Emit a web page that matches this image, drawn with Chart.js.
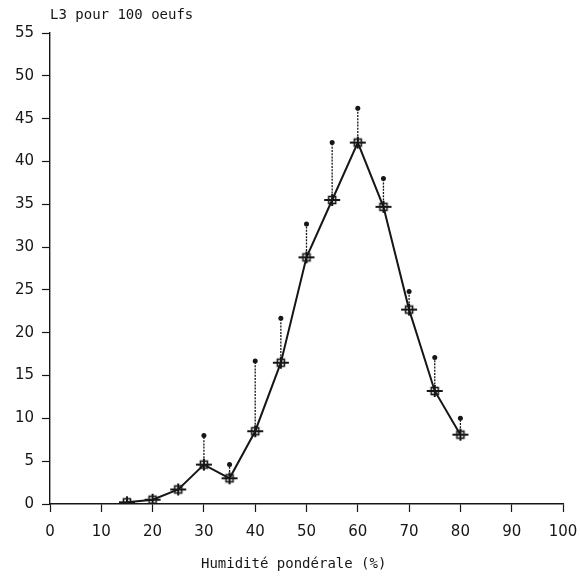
<!DOCTYPE html>
<html>
<head>
<meta charset="utf-8">
<script src="https://cdn.jsdelivr.net/npm/chart.js@4/dist/chart.umd.min.js"></script>
<style>
  html, body { margin: 0; padding: 0; background: #fff; }
  #wrap { width: 580px; height: 578px; }
</style>
</head>
<body>
<div id="wrap"><canvas id="c" width="580" height="578"></canvas></div>
<script>
// Humidité pondérale (%) du substrat
const humidite = [15, 20, 25, 30, 35, 40, 45, 50, 55, 60, 65, 70, 75, 80];
// Nombre moyen de L3 obtenues pour 100 oeufs
const larves = [0.2, 0.5, 1.7, 4.6, 3.0, 8.5, 16.5, 28.8, 35.5, 42.2, 34.7, 22.7, 13.2, 8.1];
// Borne supérieure de l'intervalle (barre d'erreur vers le haut)
const borneHaute = [null, null, null, 8.0, 4.6, 16.7, 21.7, 32.7, 42.2, 46.2, 38.0, 24.8, 17.1, 10.0];
// Graduations
const ticksX = [0, 10, 20, 30, 40, 50, 60, 70, 80, 90, 100];
const ticksY = [0, 5, 10, 15, 20, 25, 30, 35, 40, 45, 50, 55];

const titreY = 'L3 pour 100 oeufs';
const titreX = 'Humidité pondérale (%)';

const ink = '#161616';
const monoFont = '"DejaVu Sans Mono", "Liberation Mono", monospace';
const tickFont = '"DejaVu Sans", "Liberation Sans", sans-serif';

// Symbole : carré ouvert traversé d'une croix
function makeMarker() {
  const cv = document.createElement('canvas');
  cv.width = 18; cv.height = 14;
  const g = cv.getContext('2d');
  g.strokeStyle = ink;
  g.lineWidth = 1.6;
  g.strokeRect(5.5, 3.5, 7, 7);
  g.lineWidth = 2;
  g.beginPath();
  g.moveTo(1, 7); g.lineTo(17, 7);
  g.moveTo(9, 1); g.lineTo(9, 13);
  g.stroke();
  return cv;
}

// Barres d'erreur unilatérales (pointillé + point terminal)
const errorBars = {
  id: 'errorBars',
  beforeDatasetsDraw(chart) {
    const { ctx, scales: { x, y } } = chart;
    ctx.save();
    ctx.strokeStyle = ink;
    ctx.fillStyle = ink;
    ctx.lineWidth = 1.3;
    ctx.setLineDash([2, 1.2]);
    humidite.forEach((h, i) => {
      const top = borneHaute[i];
      if (top == null) return;
      const px = x.getPixelForValue(h);
      const y0 = y.getPixelForValue(larves[i]);
      const y1 = y.getPixelForValue(top);
      ctx.beginPath();
      ctx.moveTo(px, y0);
      ctx.lineTo(px, y1);
      ctx.stroke();
      ctx.beginPath();
      ctx.arc(px, y1, 2.5, 0, Math.PI * 2);
      ctx.fill();
    });
    ctx.restore();
  }
};

// Titres des axes
const axisTitles = {
  id: 'axisTitles',
  afterDraw(chart) {
    const { ctx, chartArea } = chart;
    ctx.save();
    ctx.fillStyle = ink;
    ctx.font = '14px ' + monoFont;
    ctx.textBaseline = 'middle';
    ctx.textAlign = 'left';
    ctx.fillText(titreY, chartArea.left, 15);
    ctx.textAlign = 'center';
    ctx.fillText(titreX, chartArea.left + (chartArea.right - chartArea.left) * 0.475, 564);
    ctx.restore();
  }
};

new Chart(document.getElementById('c'), {
  type: 'line',
  data: {
    datasets: [{
      data: humidite.map((h, i) => ({ x: h, y: larves[i] })),
      borderColor: ink,
      borderWidth: 2,
      tension: 0,
      pointStyle: makeMarker(),
      pointRadius: 7,
      pointHoverRadius: 7,
      fill: false
    }]
  },
  options: {
    responsive: false,
    animation: false,
    events: [],
    layout: { padding: { top: 33, right: 0, left: 0, bottom: 0 } },
    plugins: {
      legend: { display: false },
      tooltip: { enabled: false },
      title: { display: false }
    },
    scales: {
      x: {
        type: 'linear',
        min: 0,
        max: 100,
        afterBuildTicks(scale) { scale.ticks = ticksX.map(v => ({ value: v })); },
        afterFit(scale) { scale.height = 74; scale.paddingRight = 17; },
        border: { display: true, color: ink, width: 1.4 },
        grid: { drawOnChartArea: false, drawTicks: true, tickLength: 8, color: ink, tickWidth: 1.2 },
        ticks: { color: ink, font: { family: tickFont, size: 15 }, padding: 11, maxRotation: 0 }
      },
      y: {
        type: 'linear',
        min: 0,
        max: 55,
        afterBuildTicks(scale) { scale.ticks = ticksY.map(v => ({ value: v })); },
        afterFit(scale) { scale.width = 50; },
        border: { display: true, color: ink, width: 1.4 },
        grid: { drawOnChartArea: false, drawTicks: true, tickLength: 8, color: ink, tickWidth: 1.2 },
        ticks: { color: ink, font: { family: tickFont, size: 15 }, padding: 8 }
      }
    }
  },
  plugins: [errorBars, axisTitles]
});
</script>
</body>
</html>
